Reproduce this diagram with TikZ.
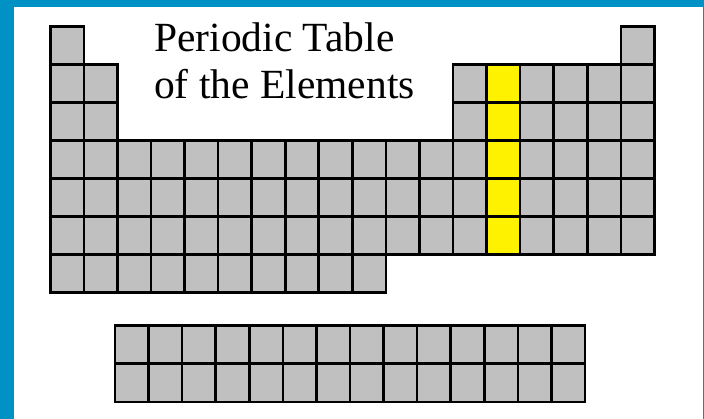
\documentclass[tikz,border=0pt]{standalone}
\usepackage{fontspec}
\setmainfont{Liberation Serif}
\definecolor{framecol}{RGB}{0,146,196}
\definecolor{cellgray}{RGB}{192,192,192}
\begin{document}
\begin{tikzpicture}[x=1pt,y=-1pt,
  cell/.style={draw=black,line width=2.6pt,fill=cellgray,minimum width=33.56pt,minimum height=38pt,inner sep=0pt,outer sep=0pt,anchor=north west},
  title/.style={anchor=base west,inner sep=0pt,font=\fontsize{41.5}{46}\selectfont}]
\useasboundingbox (0,0) rectangle (704,419);
\fill[framecol] (0,0) rectangle (704,419);
\fill[white] (14,7) rectangle (702.5,419);
% main table
\foreach \r/\cols in {1/{1,18},2/{1,2,13,14,15,16,17,18},3/{1,2,13,14,15,16,17,18},4/{1,...,18},5/{1,...,18},6/{1,...,18},7/{1,...,10}}{
  \foreach \c in \cols {
    \ifnum\c=14 \ifnum\r>1 \ifnum\r<7 \def\cc{yellow}\else\def\cc{cellgray}\fi\else\def\cc{cellgray}\fi\else\def\cc{cellgray}\fi
    \node[cell,fill=\cc] (m-\r-\c) at ({50.3+(\c-1)*33.56},{26.7+(\r-1)*38}) {};
  }
}
% f-block
\foreach \r in {1,2}{
  \foreach \c in {1,...,14}{
    \node[cell] (f-\r-\c) at ({115+(\c-1)*33.57},{325.7+(\r-1)*38.2}) {};
  }
}
\node[title] (t1) at (154,51.7) {Periodic Table};
\node[title] (t2) at (154,98.3) {of the Elements};
\end{tikzpicture}
\end{document}
